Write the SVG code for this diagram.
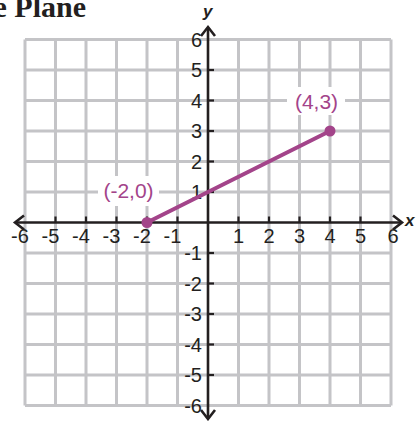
<svg xmlns="http://www.w3.org/2000/svg" width="419" height="421" viewBox="0 0 419 421">
<defs>
<style>
.grid line{stroke:#c4c4c7;stroke-width:3}
.axis{stroke:#231f20;stroke-width:2.6;fill:none}
.tick{stroke:#231f20;stroke-width:2.2}
.num{font-family:"Liberation Sans",Arial,sans-serif;font-size:20px;fill:#231f20}
.xn{text-anchor:middle}
.yn{text-anchor:end}
.pt{font-family:"Liberation Sans",Arial,sans-serif;font-size:21px;fill:#a3448a;text-anchor:middle}
.ax{font-family:"Liberation Sans",Arial,sans-serif;font-size:17px;font-weight:bold;font-style:italic;fill:#231f20}
</style>
</defs>
<rect width="419" height="421" fill="#ffffff"/>
<text x="86" y="17" text-anchor="end" font-family="'Liberation Serif','Times New Roman',serif" font-weight="bold" font-size="30" fill="#231f20">e Plane</text>
<g id="grid" class="grid">
<line x1="25" y1="39.5" x2="25" y2="405.5"/>
<line x1="55.5" y1="39.5" x2="55.5" y2="405.5"/>
<line x1="86" y1="39.5" x2="86" y2="405.5"/>
<line x1="116.5" y1="39.5" x2="116.5" y2="405.5"/>
<line x1="147" y1="39.5" x2="147" y2="405.5"/>
<line x1="177.5" y1="39.5" x2="177.5" y2="405.5"/>
<line x1="238.5" y1="39.5" x2="238.5" y2="405.5"/>
<line x1="269" y1="39.5" x2="269" y2="405.5"/>
<line x1="299.5" y1="39.5" x2="299.5" y2="405.5"/>
<line x1="330" y1="39.5" x2="330" y2="405.5"/>
<line x1="360.5" y1="39.5" x2="360.5" y2="405.5"/>
<line x1="391" y1="39.5" x2="391" y2="405.5"/>
<line x1="25" y1="39.5" x2="391" y2="39.5"/>
<line x1="25" y1="70" x2="391" y2="70"/>
<line x1="25" y1="100.5" x2="391" y2="100.5"/>
<line x1="25" y1="131" x2="391" y2="131"/>
<line x1="25" y1="161.5" x2="391" y2="161.5"/>
<line x1="25" y1="192" x2="391" y2="192"/>
<line x1="25" y1="253" x2="391" y2="253"/>
<line x1="25" y1="283.5" x2="391" y2="283.5"/>
<line x1="25" y1="314" x2="391" y2="314"/>
<line x1="25" y1="344.5" x2="391" y2="344.5"/>
<line x1="25" y1="375" x2="391" y2="375"/>
<line x1="25" y1="405.5" x2="391" y2="405.5"/>
</g>
<g id="axes">
<line class="axis" x1="16" y1="222.5" x2="401" y2="222.5"/>
<line class="axis" x1="208" y1="28" x2="208" y2="418"/>
<polyline class="axis" points="24,215.5 15,222.5 24,229.5"/>
<polyline class="axis" points="393,215.5 402,222.5 393,229.5"/>
<polyline class="axis" points="201,36 208,27 215,36"/>
<polyline class="axis" points="201,410 208,419 215,410"/>
<g class="tick">
<line x1="55.5" y1="216.5" x2="55.5" y2="222.5"/>
<line x1="86" y1="216.5" x2="86" y2="222.5"/>
<line x1="116.5" y1="216.5" x2="116.5" y2="222.5"/>
<line x1="147" y1="216.5" x2="147" y2="222.5"/>
<line x1="177.5" y1="216.5" x2="177.5" y2="222.5"/>
<line x1="238.5" y1="216.5" x2="238.5" y2="222.5"/>
<line x1="269" y1="216.5" x2="269" y2="222.5"/>
<line x1="299.5" y1="216.5" x2="299.5" y2="222.5"/>
<line x1="330" y1="216.5" x2="330" y2="222.5"/>
<line x1="360.5" y1="216.5" x2="360.5" y2="222.5"/>
<line x1="208" y1="70" x2="214" y2="70"/>
<line x1="208" y1="100.5" x2="214" y2="100.5"/>
<line x1="208" y1="131" x2="214" y2="131"/>
<line x1="208" y1="161.5" x2="214" y2="161.5"/>
<line x1="208" y1="192" x2="214" y2="192"/>
<line x1="208" y1="253" x2="214" y2="253"/>
<line x1="208" y1="283.5" x2="214" y2="283.5"/>
<line x1="208" y1="314" x2="214" y2="314"/>
<line x1="208" y1="344.5" x2="214" y2="344.5"/>
<line x1="208" y1="375" x2="214" y2="375"/>
</g>
<text class="ax" x="203" y="17">y</text>
<text class="ax" x="405" y="226">x</text>
</g>
<g id="x-labels" class="num xn">
<text x="20" y="243">-6</text>
<text x="50.5" y="243">-5</text>
<text x="81" y="243">-4</text>
<text x="111.5" y="243">-3</text>
<text x="142" y="243">-2</text>
<text x="172.5" y="243">-1</text>
<text x="238.5" y="243">1</text>
<text x="269" y="243">2</text>
<text x="299.5" y="243">3</text>
<text x="330" y="243">4</text>
<text x="360.5" y="243">5</text>
<text x="393" y="243">6</text>
</g>
<g id="y-labels" class="num yn">
<text x="202" y="46.5">6</text>
<text x="202" y="77">5</text>
<text x="202" y="107.5">4</text>
<text x="202" y="138">3</text>
<text x="202" y="168.5">2</text>
<text x="202" y="199">1</text>
<text x="202" y="260">-1</text>
<text x="202" y="290.5">-2</text>
<text x="202" y="321">-3</text>
<text x="202" y="351.5">-4</text>
<text x="202" y="382">-5</text>
<text x="202" y="412.5">-6</text>
</g>
<g id="connectors">
<line x1="147" y1="222.5" x2="330" y2="131" stroke="#a3448a" stroke-width="4" stroke-linecap="round"/>
</g>
<g id="point-a">
<circle cx="147" cy="222.5" r="5.5" fill="#a3448a"/>
<rect x="98" y="176" width="61" height="30" fill="#ffffff"/>
<text class="pt" x="128.5" y="197.5">(-2,0)</text>
</g>
<g id="point-b">
<circle cx="330" cy="131" r="5.5" fill="#a3448a"/>
<rect x="287" y="87" width="58" height="28" fill="#ffffff"/>
<text class="pt" x="316.5" y="108.5">(4,3)</text>
</g>
</svg>
